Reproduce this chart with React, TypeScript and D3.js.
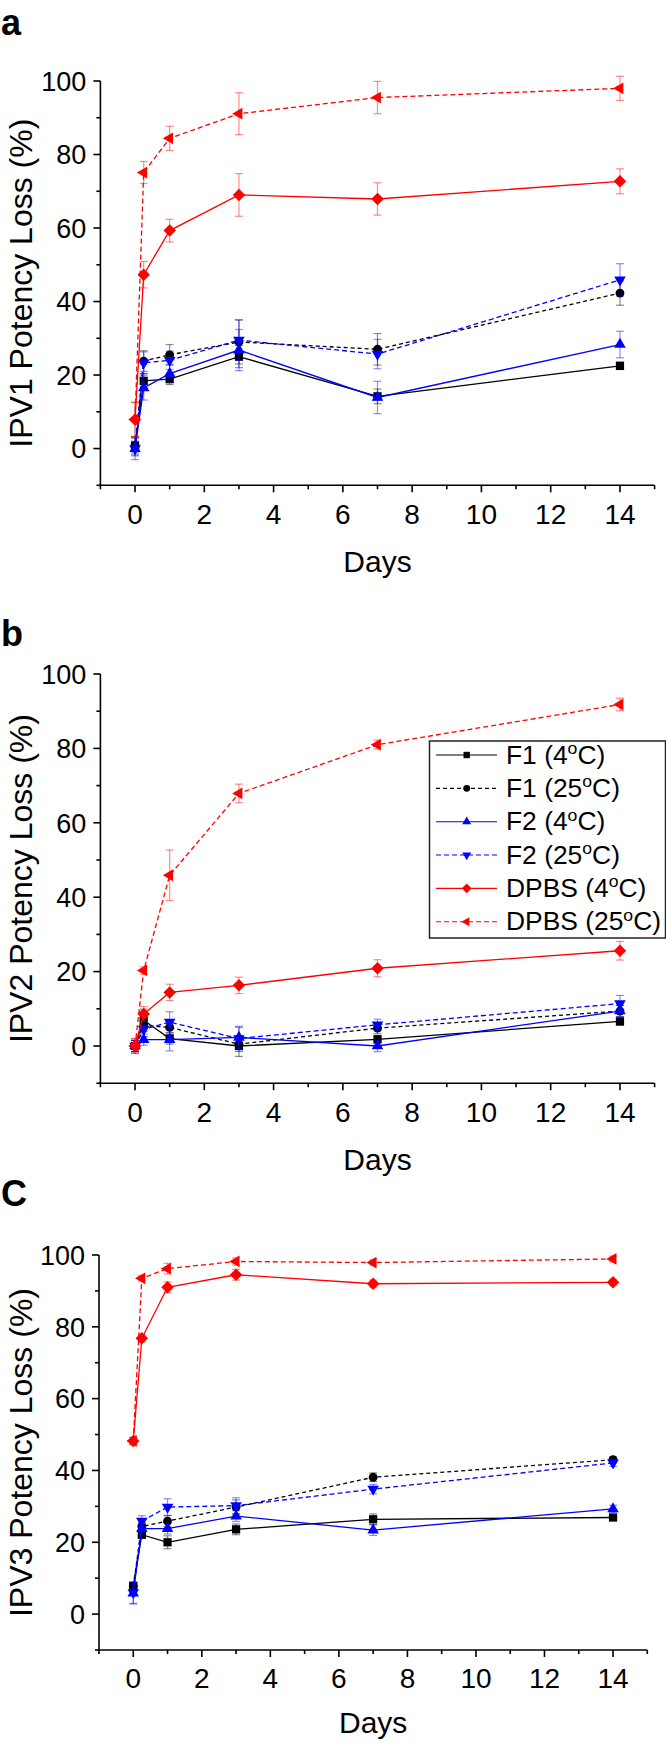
import * as d3 from 'd3';

// sampling days
const days = [0, 0.25, 1, 3, 7, 14];

const xTicksMajor = [0, 2, 4, 6, 8, 10, 12, 14];
const xTicksMinor = [-1, 1, 3, 5, 7, 9, 11, 13, 15];
const yTicksMajor = [0, 20, 40, 60, 80, 100];
const yTicksMinor = [-10, 10, 30, 50, 70, 90];

// legend names / temperatures
const formulations = ['F1', 'F1', 'F2', 'F2', 'DPBS', 'DPBS'];
const temps = ['4', '25', '4', '25', '4', '25'];

// IPV1
const ipv1F1c4 = [0.8, 18.4, 18.9, 25.0, 14.2, 22.5];
const ipv1F1c4Err = [2, 2, 1.5, 3, 2, 1];
const ipv1F1c25 = [0.8, 23.8, 25.5, 29.0, 27.0, 42.3];
const ipv1F1c25Err = [2.5, 2.8, 2.8, 6, 4.3, 3.3];
const ipv1F2c4 = [0, 16.5, 20.4, 26.8, 13.9, 28.3];
const ipv1F2c4Err = [3, 3.3, 2.5, 5.6, 4.4, 3.6];
const ipv1F2c25 = [0, 23.3, 24.0, 29.5, 25.7, 45.9];
const ipv1F2c25Err = [2, 3, 2.5, 5.5, 4, 4.4];
const ipv1Dpbs4 = [7.9, 47.3, 59.3, 69.0, 67.9, 72.7];
const ipv1Dpbs4Err = [4.7, 3.6, 3.1, 5.8, 4.4, 3.4];
const ipv1Dpbs25 = [7.9, 75.1, 84.4, 91.1, 95.5, 98.0];
const ipv1Dpbs25Err = [4.7, 3, 3.3, 5.7, 4.4, 3.3];

// IPV2
const ipv2F1c4 = [0, 6.9, 2.0, 0, 1.8, 6.6];
const ipv2F1c4Err = [1.5, 3, 1.5, 2.8, 1, 1];
const ipv2F1c25 = [0, 5.5, 5.0, 0.5, 4.8, 9.4];
const ipv2F1c25Err = [1.5, 3, 2, 2, 1.5, 1.5];
const ipv2F2c4 = [0, 1.7, 1.7, 2.3, 0, 9.4];
const ipv2F2c4Err = [1.5, 1.5, 3, 3, 1.5, 1.5];
const ipv2F2c25 = [0, 4.5, 6.4, 2.0, 5.7, 11.4];
const ipv2F2c25Err = [1.5, 2, 2.8, 3, 1.5, 2.2];
const ipv2Dpbs4 = [0, 8.6, 14.4, 16.3, 20.9, 25.6];
const ipv2Dpbs4Err = [2, 2, 2.2, 2.2, 2.3, 2.5];
const ipv2Dpbs25 = [0, 20.3, 45.9, 67.9, 81.0, 91.8];
const ipv2Dpbs25Err = [2, 1, 6.8, 2.5, 1.2, 1.7];

// IPV3
const ipv3F1c4 = [7.8, 22.1, 20.0, 23.6, 26.4, 26.9];
const ipv3F1c4Err = [1, 1, 1.8, 1.5, 1.5, 0.8];
const ipv3F1c25 = [7.8, 24.4, 25.9, 29.8, 38.1, 43.0];
const ipv3F1c25Err = [1, 1, 1.5, 2, 1.2, 0.8];
const ipv3F2c4 = [5.8, 23.8, 23.8, 27.3, 23.4, 29.3];
const ipv3F2c4Err = [3, 1, 1.5, 1.5, 1.5, 1];
const ipv3F2c25 = [6.0, 25.9, 29.8, 30.2, 34.8, 42.1];
const ipv3F2c25Err = [3, 1.5, 2.3, 2.2, 1.3, 1];
const ipv3Dpbs4 = [48.2, 76.8, 91.0, 94.5, 92.0, 92.4];
const ipv3Dpbs4Err = [1, 1, 1.5, 1.5, 1, 0.8];
const ipv3Dpbs25 = [48.2, 93.5, 96.2, 98.2, 97.9, 98.9];
const ipv3Dpbs25Err = [1, 0.8, 1.5, 1, 0.8, 0.8];

const FONT = '"Liberation Sans", Arial, Helvetica, sans-serif';

const styles = [
  { color: '#000000', dash: null, sym: 'square' },
  { color: '#000000', dash: '4,3', sym: 'circle' },
  { color: '#0000ff', dash: null, sym: 'up' },
  { color: '#0000ff', dash: '5,3', sym: 'down' },
  { color: '#ff0000', dash: null, sym: 'diamond' },
  { color: '#ff0000', dash: '5,3', sym: 'left' },
];

function markerPath(sym: string, scale = 1) {
  const gen = d3.symbol();
  if (sym === 'square') return { d: gen.type(d3.symbolSquare).size(68 * scale)(), rot: 0 };
  if (sym === 'circle') return { d: gen.type(d3.symbolCircle).size(62 * scale)(), rot: 0 };
  if (sym === 'up') return { d: gen.type(d3.symbolTriangle).size(58 * scale)(), rot: 0 };
  if (sym === 'down') return { d: gen.type(d3.symbolTriangle).size(58 * scale)(), rot: 180 };
  if (sym === 'diamond') return { d: gen.type(d3.symbolSquare).size(78 * scale)(), rot: 45 };
  return { d: gen.type(d3.symbolTriangle).size(60 * scale)(), rot: -90 };
}

const panels = [
  {
    label: 'a', labelY: 35, ylab: 'IPV1 Potency Loss (%)',
    x0: 100.4, x1: 654.6, yTop: 81, yBot: 485.3, daysOff: 86.5, tickOff: 39,
    values: [ipv1F1c4, ipv1F1c25, ipv1F2c4, ipv1F2c25, ipv1Dpbs4, ipv1Dpbs25],
    errors: [ipv1F1c4Err, ipv1F1c25Err, ipv1F2c4Err, ipv1F2c25Err, ipv1Dpbs4Err, ipv1Dpbs25Err],
    legend: false,
  },
  {
    label: 'b', labelY: 646, ylab: 'IPV2 Potency Loss (%)',
    x0: 100.4, x1: 654.6, yTop: 674, yBot: 1083.2, daysOff: 86.5, tickOff: 39,
    values: [ipv2F1c4, ipv2F1c25, ipv2F2c4, ipv2F2c25, ipv2Dpbs4, ipv2Dpbs25],
    errors: [ipv2F1c4Err, ipv2F1c25Err, ipv2F2c4Err, ipv2F2c25Err, ipv2Dpbs4Err, ipv2Dpbs25Err],
    legend: true,
  },
  {
    label: 'C', labelY: 1206, ylab: 'IPV3 Potency Loss (%)',
    x0: 99, x1: 647.3, yTop: 1255, yBot: 1650, daysOff: 83, tickOff: 37.5,
    values: [ipv3F1c4, ipv3F1c25, ipv3F2c4, ipv3F2c25, ipv3Dpbs4, ipv3Dpbs25],
    errors: [ipv3F1c4Err, ipv3F1c25Err, ipv3F2c4Err, ipv3F2c25Err, ipv3Dpbs4Err, ipv3Dpbs25Err],
    legend: false,
  },
];

function Legend() {
  const left = 429.5, top = 741, right = 665.5, bottom = 938;
  const rowY = d3.scaleLinear().domain([0, 5]).range([755, 921.7]);
  return (
    <g>
      <rect x={left} y={top} width={right - left} height={bottom - top} fill="#fff" stroke="#222" strokeWidth={1.5} />
      {styles.map((s, i) => {
        const y = rowY(i);
        const m = markerPath(s.sym, 0.6);
        return (
          <g key={i}>
            <line x1={436} x2={497} y1={y} y2={y} stroke={s.color} strokeWidth={1.1}
              strokeDasharray={s.dash || undefined} />
            <path d={m.d!} transform={`translate(466.7,${y}) rotate(${m.rot})`} fill={s.color} />
            <text transform={`translate(506,${y + 8.5}) scale(1.1,1.05)`} fontFamily={FONT} fontSize={24} fill="#000">
              {formulations[i]} ({temps[i]}
              <tspan dy={-9} fontSize={16}>o</tspan>
              <tspan dy={9}>C)</tspan>
            </text>
          </g>
        );
      })}
    </g>
  );
}

function Panel({ p }: { p: typeof panels[number] }) {
  const x = d3.scaleLinear().domain([-1, 15]).range([p.x0, p.x1]);
  const y = d3.scaleLinear().domain([-10, 100]).range([p.yBot, p.yTop]);
  const line = d3.line<number>().x((_, i) => x(days[i])).y(v => y(v));
  const axisX = p.x0;
  const axisY = p.yBot;
  return (
    <g>
      <text x={1} y={p.labelY} fontFamily={FONT} fontWeight="bold" fontSize={36}>{p.label}</text>
      {/* series */}
      {p.values.map((vals, si) => {
        const s = styles[si];
        const m = markerPath(s.sym);
        return (
          <g key={si}>
            <g stroke={s.color} strokeOpacity={0.45} strokeWidth={1.2}>
              {vals.map((v, i) => {
                const cx = x(days[i]);
                const e = p.errors[si][i];
                return (
                  <g key={i}>
                    <line x1={cx} x2={cx} y1={y(v - e)} y2={y(v + e)} />
                    <line x1={cx - 4} x2={cx + 4} y1={y(v - e)} y2={y(v - e)} />
                    <line x1={cx - 4} x2={cx + 4} y1={y(v + e)} y2={y(v + e)} />
                  </g>
                );
              })}
            </g>
            <path d={line(vals)!} fill="none" stroke={s.color} strokeWidth={1.3}
              strokeDasharray={s.dash || undefined} />
            {vals.map((v, i) => (
              <path key={i} d={m.d!} fill={s.color}
                transform={`translate(${x(days[i])},${y(v)}) rotate(${m.rot})`} />
            ))}
          </g>
        );
      })}
      {/* axes */}
      <g stroke="#000" strokeWidth={1.6}>
        <line x1={axisX} x2={axisX} y1={p.yTop} y2={axisY + 0.8} />
        <line x1={axisX - 0.8} x2={p.x1} y1={axisY} y2={axisY} />
        {yTicksMajor.map(t => <line key={'ym' + t} x1={axisX - 7} x2={axisX} y1={y(t)} y2={y(t)} />)}
        {yTicksMinor.map(t => <line key={'yn' + t} x1={axisX - 4} x2={axisX} y1={y(t)} y2={y(t)} />)}
        {xTicksMajor.map(t => <line key={'xm' + t} x1={x(t)} x2={x(t)} y1={axisY} y2={axisY + 7} />)}
        {xTicksMinor.map(t => <line key={'xn' + t} x1={x(t)} x2={x(t)} y1={axisY} y2={axisY + 4} />)}
      </g>
      {yTicksMajor.map(t => (
        <text key={'yl' + t} x={axisX - 14} y={y(t) + 9.7} textAnchor="end" fontFamily={FONT} fontSize={27}>{t}</text>
      ))}
      {xTicksMajor.map(t => (
        <text key={'xl' + t} x={x(t)} y={axisY + p.tickOff} textAnchor="middle" fontFamily={FONT} fontSize={28}>{t}</text>
      ))}
      <text x={(p.x0 + p.x1) / 2} y={axisY + p.daysOff} textAnchor="middle" fontFamily={FONT} fontSize={30}>Days</text>
      <text transform={`translate(32,${(p.yTop + p.yBot) / 2}) rotate(-90)`} textAnchor="middle"
        fontFamily={FONT} fontSize={32}>{p.ylab}</text>
      {p.legend && <Legend />}
    </g>
  );
}

export default function App() {
  return (
    <svg width={666} height={1745} viewBox="0 0 666 1745"
      style={{ position: 'absolute', left: 0, top: 0, display: 'block', background: '#fff' }}>
      {panels.map(p => <Panel key={p.label} p={p} />)}
    </svg>
  );
}
